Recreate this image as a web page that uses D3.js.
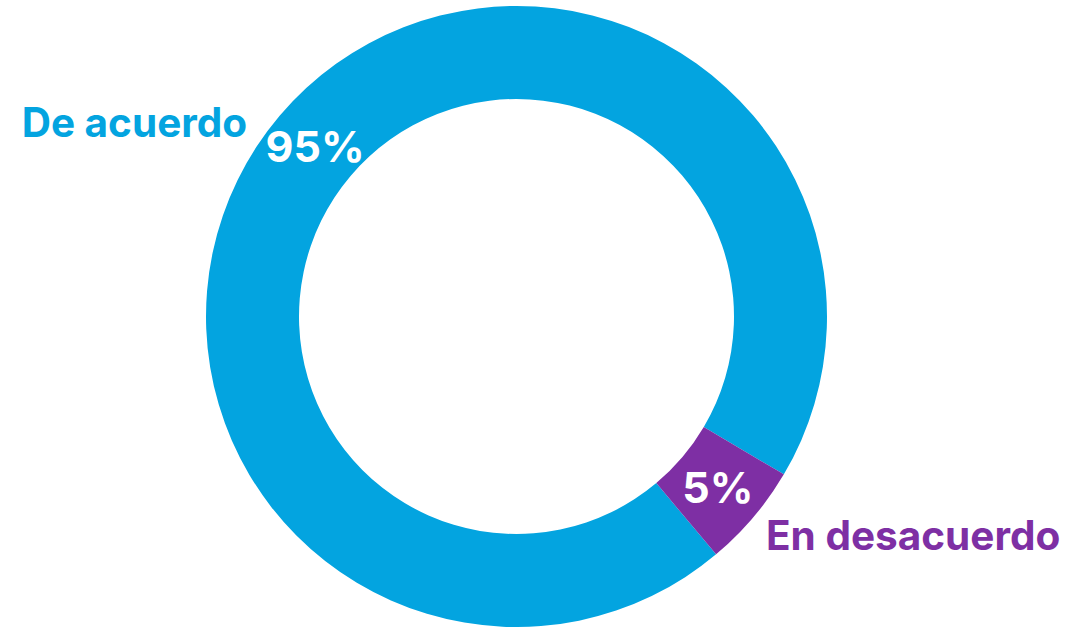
<!DOCTYPE html>
<html>
<head>
<meta charset="utf-8">
<script src="https://cdn.jsdelivr.net/npm/d3@7"></script>
<style>
  html, body { margin: 0; padding: 0; background: #ffffff; }
  svg { display: block; }
  text { font-family: "Inter", "Open Sans", sans-serif; font-weight: 700; }
</style>
</head>
<body>
<svg id="chart" width="1089" height="627"></svg>
<script>
const categories = ["De acuerdo", "En desacuerdo"];
const values = [94.6, 5.4];
const valueLabels = ["95%", "5%"];
const colors = ["#03A4E0", "#7E2FA4"];

const width = 1089, height = 627;
const cx = 516.5, cy = 316.5;
const outerR = 310.5, innerR = 217.5;
const startDeg = 140.0;

const svg = d3.select("#chart");
const g = svg.append("g").attr("transform", `translate(${cx},${cy})`);

const data = categories.map((c, i) => ({ cat: c, value: values[i], label: valueLabels[i], color: colors[i] }));

const pie = d3.pie()
  .value(d => d.value)
  .sort(null)
  .startAngle(startDeg * Math.PI / 180)
  .endAngle((startDeg + 360) * Math.PI / 180);

const arc = d3.arc().innerRadius(innerR).outerRadius(outerR);
const arcs = pie(data);

g.selectAll("path.slice")
  .data(arcs)
  .join("path")
  .attr("class", "slice")
  .attr("d", arc)
  .attr("fill", d => d.data.color);

// value labels at centroid
g.selectAll("text.val")
  .data(arcs)
  .join("text")
  .attr("class", "val")
  .attr("transform", d => `translate(${arc.centroid(d)})`)
  .attr("text-anchor", "middle")
  .attr("dominant-baseline", "central")
  .attr("fill", "#ffffff")
  .attr("font-size", 43)
  .text(d => d.data.label);

// category labels outside the ring
const labelR = 332;
const angleNudge = [-4.5, 1.0];
g.selectAll("text.cat")
  .data(arcs)
  .join("text")
  .attr("class", "cat")
  .each(function(d, i) {
    const a = (d.startAngle + d.endAngle) / 2 + angleNudge[i] * Math.PI / 180;
    const x = labelR * Math.sin(a);
    const y = -labelR * Math.cos(a);
    const norm = ((a % (2 * Math.PI)) + 2 * Math.PI) % (2 * Math.PI);
    d3.select(this)
      .attr("x", x)
      .attr("y", y)
      .attr("text-anchor", norm > Math.PI ? "end" : "start");
  })
  .attr("dominant-baseline", "central")
  .attr("fill", d => d.data.color)
  .attr("font-size", 40.5)
  .text(d => d.data.cat);
</script>
</body>
</html>
